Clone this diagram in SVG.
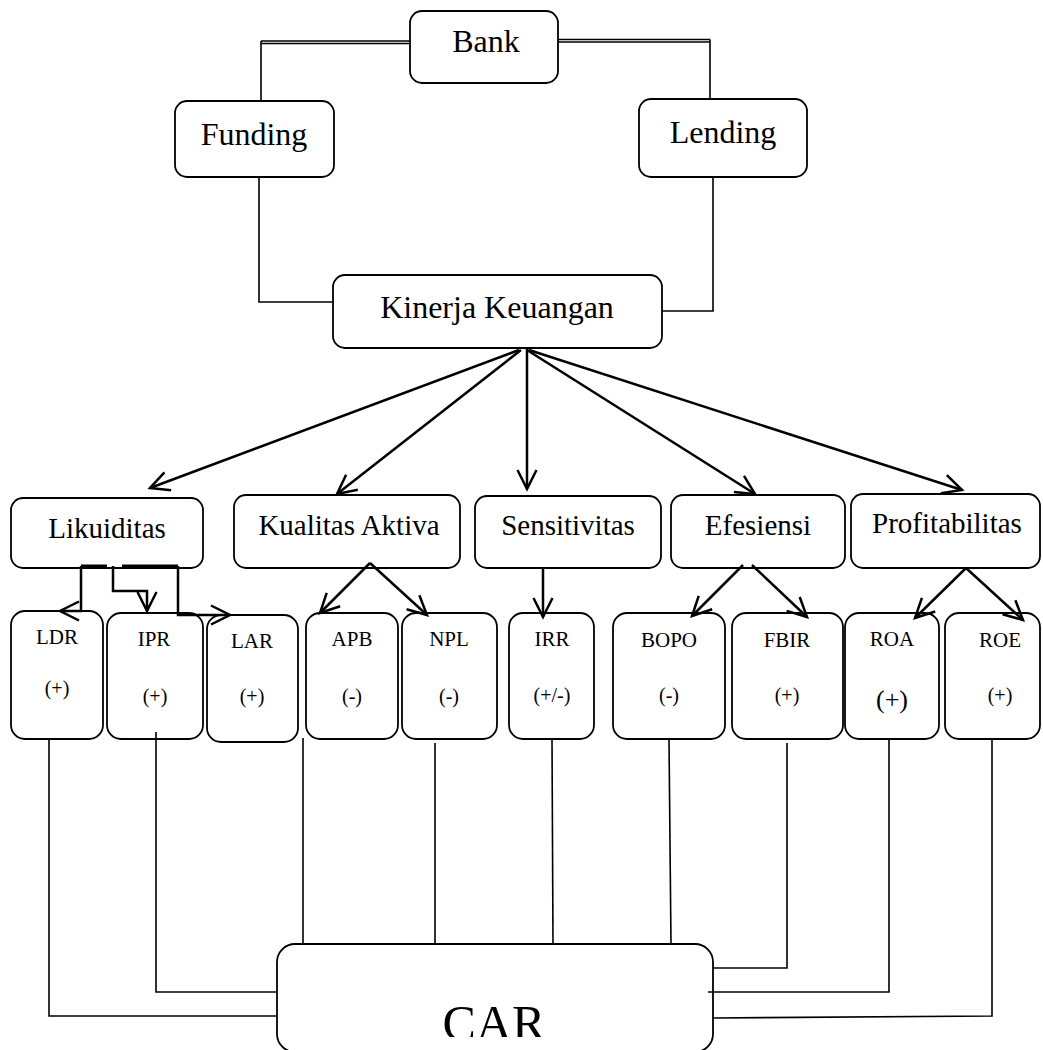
<svg xmlns="http://www.w3.org/2000/svg" width="1043" height="1050" viewBox="0 0 1043 1050">
<style>
.box{fill:#fff;stroke:#000;stroke-width:1.8}
.t{font-family:"Liberation Serif","Times New Roman",serif;fill:#000;text-anchor:middle}
.t1{font-size:32px}
.t2{font-size:29px}
.t3{font-size:21px}
.t4{font-size:20px}
.c{fill:none;stroke:#000;stroke-width:1.6}
.a{fill:none;stroke:#000;stroke-width:2.5}
.thick{fill:none;stroke:#000;stroke-width:3.2}
</style>
<defs>
<marker id="arr" markerUnits="userSpaceOnUse" markerWidth="30" markerHeight="30" viewBox="-22 -15 30 30" refX="0" refY="0" orient="auto" overflow="visible">
<path d="M-19,-9.5 L0,0 L-19,9.5" fill="none" stroke="#000" stroke-width="2.5"/>
</marker>
<clipPath id="carclip"><rect x="277" y="944" width="436" height="93"/></clipPath>
</defs>
<rect width="1043" height="1050" fill="#fff"/>
<g id="bank"><rect class="box" x="410" y="11" width="148" height="72" rx="12"/><text class="t t1" x="486" y="52">Bank</text></g>
<g id="funding"><rect class="box" x="175" y="101" width="159" height="76" rx="12"/><text class="t t1" x="254" y="145">Funding</text></g>
<g id="lending"><rect class="box" x="639" y="99" width="168" height="78" rx="12"/><text class="t t1" x="723" y="143">Lending</text></g>
<g id="kinerja"><rect class="box" x="333" y="275" width="329" height="73" rx="12"/><text class="t t1" x="497" y="318">Kinerja Keuangan</text></g>
<g id="likuiditas"><rect class="box" x="11" y="498" width="192" height="70" rx="12"/><text class="t t2" x="107" y="538">Likuiditas</text></g>
<g id="kualitas"><rect class="box" x="234" y="495" width="226" height="73" rx="12"/><text class="t t2" x="349" y="535">Kualitas Aktiva</text></g>
<g id="sensitivitas"><rect class="box" x="475" y="496" width="186" height="72" rx="12"/><text class="t t2" x="568" y="535">Sensitivitas</text></g>
<g id="efesiensi"><rect class="box" x="671" y="495" width="174" height="73" rx="12"/><text class="t t2" x="758" y="535">Efesiensi</text></g>
<g id="profitabilitas"><rect class="box" x="851" y="494" width="189" height="74" rx="12"/><text class="t t2" x="947" y="533">Profitabilitas</text></g>
<g id="ldr"><rect class="box" x="11" y="611" width="92" height="128" rx="14"/><text class="t t3" x="57" y="644">LDR</text><text class="t t4" x="57" y="695">(+)</text></g>
<g id="ipr"><rect class="box" x="107" y="613" width="96" height="126" rx="14"/><text class="t t3" x="154" y="646">IPR</text><text class="t t4" x="155" y="703">(+)</text></g>
<g id="lar"><rect class="box" x="207" y="615" width="91" height="127" rx="14"/><text class="t t3" x="252" y="648">LAR</text><text class="t t4" x="252" y="703">(+)</text></g>
<g id="apb"><rect class="box" x="306" y="613" width="92" height="126" rx="14"/><text class="t t3" x="352" y="646">APB</text><text class="t t4" x="352" y="703">(-)</text></g>
<g id="npl"><rect class="box" x="402" y="613" width="95" height="126" rx="14"/><text class="t t3" x="449" y="646">NPL</text><text class="t t4" x="449" y="703">(-)</text></g>
<g id="irr"><rect class="box" x="509" y="613" width="85" height="126" rx="14"/><text class="t t3" x="552" y="646">IRR</text><text class="t t4" x="552" y="702">(+/-)</text></g>
<g id="bopo"><rect class="box" x="613" y="613" width="112" height="126" rx="14"/><text class="t t3" x="669" y="647">BOPO</text><text class="t t4" x="669" y="702">(-)</text></g>
<g id="fbir"><rect class="box" x="732" y="613" width="111" height="126" rx="14"/><text class="t t3" x="787" y="647">FBIR</text><text class="t t4" x="787" y="702">(+)</text></g>
<g id="roa"><rect class="box" x="845" y="613" width="94" height="126" rx="14"/><text class="t t3" x="892" y="646">ROA</text><text class="t" style="font-size:26px" x="892" y="708">(+)</text></g>
<g id="roe"><rect class="box" x="945" y="613" width="95" height="126" rx="14"/><text class="t t3" x="1000" y="647">ROE</text><text class="t t4" x="1000" y="702">(+)</text></g>
<g id="car"><rect class="box" x="277" y="944" width="436" height="108" rx="18"/><text class="t" style="font-size:50px" x="494" y="1040" clip-path="url(#carclip)">CAR</text></g>
<g id="connectors">
<path class="c" d="M410,41 H261 M410,43.5 H261 M261,41 V101"/>
<path class="c" d="M558,39.5 H710 M558,42 H710 M710,39.5 V99"/>
<path class="c" d="M259,177 V302 H333"/>
<path class="c" d="M713,177 V311 H662"/>
<path class="a" marker-end="url(#arr)" d="M519,350 L150,488"/>
<path class="a" marker-end="url(#arr)" d="M521,350 L337,494"/>
<path class="a" marker-end="url(#arr)" d="M527,349 V489"/>
<path class="a" marker-end="url(#arr)" d="M527,350 L755,494"/>
<path class="a" marker-end="url(#arr)" d="M529,350 L962,490"/>
<path class="thick" d="M81,566 H107 M122,566 H178"/>
<path class="a" marker-end="url(#arr)" d="M81,566 V611 H60"/>
<path class="a" marker-end="url(#arr)" d="M113,566 V591 H147 V611"/>
<path class="a" marker-end="url(#arr)" d="M178,566 V615 H230"/>
<path class="a" marker-end="url(#arr)" d="M370,563 L320,613"/>
<path class="a" marker-end="url(#arr)" d="M370,563 L427,615"/>
<path class="a" marker-end="url(#arr)" d="M543,568 V617"/>
<path class="a" marker-end="url(#arr)" d="M743,565 L692,616"/>
<path class="a" marker-end="url(#arr)" d="M752,565 L807,617"/>
<path class="a" marker-end="url(#arr)" d="M966,568 L915,618"/>
<path class="a" marker-end="url(#arr)" d="M966,568 L1023,620"/>
<path class="c" d="M49,739 V1016 H277"/>
<path class="c" d="M156,732 V992 H277"/>
<path class="c" d="M303,738 V944"/>
<path class="c" d="M435,743 V944"/>
<path class="c" d="M552,739 L553,944"/>
<path class="c" d="M669,739 L671,944"/>
<path class="c" d="M787,743 V968 H713"/>
<path class="c" d="M889,739 V992 H708"/>
<path class="c" d="M992,739 V1016 L713,1018"/>
</g>
</svg>
